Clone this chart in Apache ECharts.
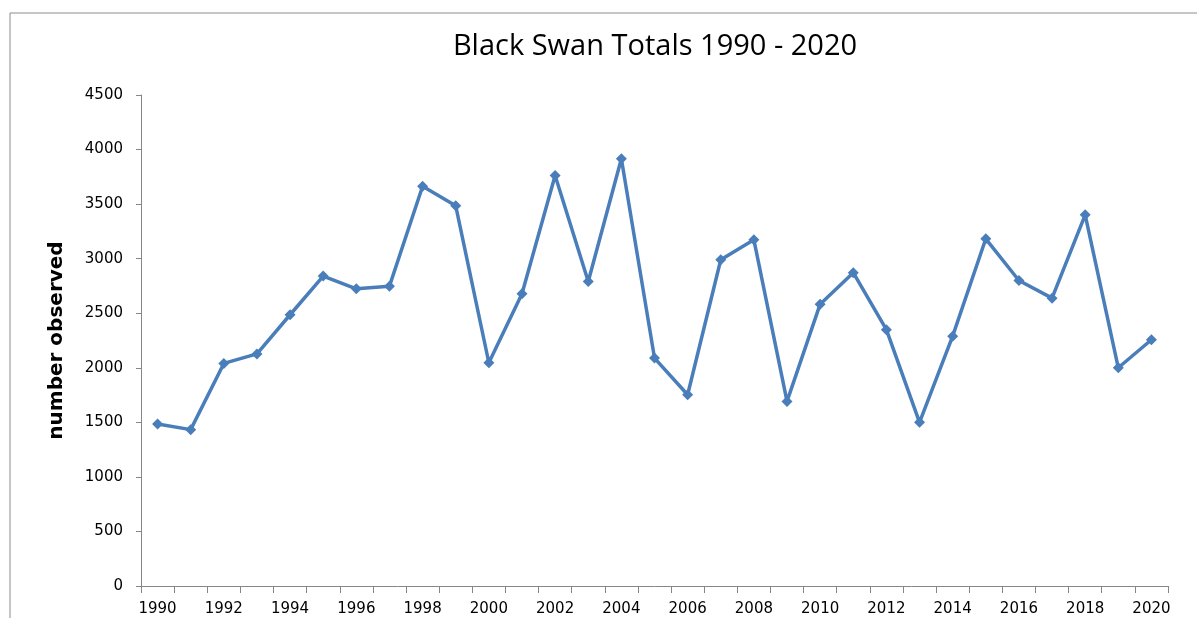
<!DOCTYPE html>
<html>
<head>
<meta charset="utf-8">
<script src="https://cdn.jsdelivr.net/npm/echarts@6/dist/echarts.min.js"></script>
<style>
html,body{margin:0;padding:0;background:#fff;}
#chart{width:1197px;height:618px;}
</style>
</head>
<body>
<div id="chart"></div>
<script>
const years = ['1990','1991','1992','1993','1994','1995','1996','1997','1998','1999','2000','2001','2002','2003','2004','2005','2006','2007','2008','2009','2010','2011','2012','2013','2014','2015','2016','2017','2018','2019','2020'];
const totals = [1485,1433,2040,2127,2486,2840,2724,2748,3664,3484,2046,2678,3762,2791,3915,2089,1753,2990,3173,1692,2583,2871,2349,1500,2290,3182,2800,2638,3402,2000,2257];
const titleText = 'Black Swan Totals 1990 - 2020';
const yAxisName = 'number observed';

const chart = echarts.init(document.getElementById('chart'));
chart.setOption({
  backgroundColor: '#fff',
  animation: false,
  graphic: [{
    type: 'rect',
    shape: {x: 10, y: 13, width: 1300, height: 700},
    style: {fill: 'none', stroke: '#8c8c8c', lineWidth: 1}
  }],
  title: {
    text: titleText,
    left: 650, top: 27, textAlign: 'center',
    textStyle: {fontFamily: 'Open Sans', fontSize: 29, fontWeight: 'normal', color: '#000'}
  },
  grid: {left: 141, right: 29, top: 95, bottom: 32},
  xAxis: {
    type: 'category',
    data: years,
    boundaryGap: true,
    axisLine: {lineStyle: {color: '#868686', width: 1}},
    axisTick: {show: true, interval: 0, length: 7, lineStyle: {color: '#868686'}},
    axisLabel: {interval: 1, color: '#000', fontFamily: 'DejaVu Sans', fontSize: 15, margin: 16}
  },
  yAxis: {
    type: 'value',
    min: 0, max: 4500, interval: 500,
    name: yAxisName,
    nameLocation: 'middle',
    nameGap: 74,
    nameTextStyle: {fontFamily: 'DejaVu Sans', fontSize: 20, fontWeight: 'bold', color: '#000'},
    splitLine: {show: false},
    axisLine: {show: true, lineStyle: {color: '#868686', width: 1}},
    axisTick: {show: true, length: 5, lineStyle: {color: '#868686'}},
    axisLabel: {color: '#000', fontFamily: 'DejaVu Sans', fontSize: 15, margin: 18, formatter: v => String(v)}
  },
  series: [{
    type: 'line',
    data: totals,
    symbol: 'diamond',
    symbolSize: 11,
    itemStyle: {color: '#4a7ebb'},
    lineStyle: {color: '#4a7ebb', width: 3.5}
  }]
});
</script>
</body>
</html>
